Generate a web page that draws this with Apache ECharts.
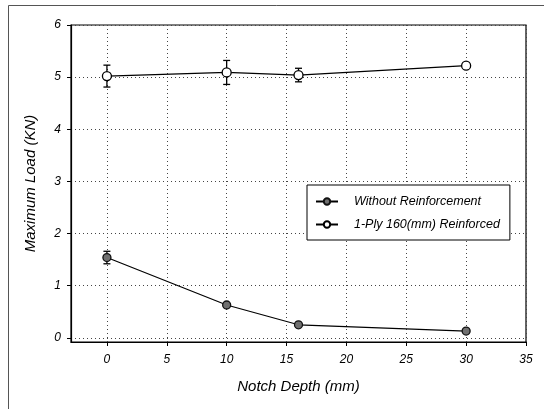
<!DOCTYPE html>
<html>
<head>
<meta charset="utf-8">
<script src="https://cdn.jsdelivr.net/npm/echarts@6/dist/echarts.min.js"></script>
<style>html,body{margin:0;padding:0;background:#fff}#c{width:544px;height:409px}</style>
</head>
<body>
<div id="c"></div>
<script>
const notchDepth = [0, 10, 16, 30];
const withoutReinf = [1.54, 0.63, 0.25, 0.13];
const withoutErr = [0.12, 0, 0, 0];
const reinforced = [5.02, 5.09, 5.04, 5.22];
const reinforcedErr = [0.21, 0.23, 0.13, 0];
const xTicks = [0, 5, 10, 15, 20, 25, 30, 35];
const yTicks = [0, 1, 2, 3, 4, 5, 6];
const seriesNames = ['Without Reinforcement', '1-Ply 160(mm) Reinforced'];

const FONT = '"Liberation Sans", Arial, sans-serif';

function pairs(ys) { return notchDepth.map((x, i) => [x, ys[i]]); }
function errData(ys, es) { return notchDepth.map((x, i) => [x, ys[i], es[i]]); }

function errRender(params, api) {
  const x = api.value(0), y = api.value(1), e = api.value(2);
  if (!e) return null;
  const top = api.coord([x, y + e]);
  const bot = api.coord([x, y - e]);
  const cap = 3.5;
  const st = { stroke: '#000', lineWidth: 1.3 };
  return { type: 'group', children: [
    { type: 'line', shape: { x1: top[0], y1: top[1], x2: bot[0], y2: bot[1] }, style: st },
    { type: 'line', shape: { x1: top[0] - cap, y1: top[1], x2: top[0] + cap, y2: top[1] }, style: st },
    { type: 'line', shape: { x1: bot[0] - cap, y1: bot[1], x2: bot[0] + cap, y2: bot[1] }, style: st }
  ]};
}

const chart = echarts.init(document.getElementById('c'), null, { renderer: 'canvas' });
const gridLine = { show: true, lineStyle: { color: '#444', width: 1, type: [1, 3] } };
chart.setOption({
  backgroundColor: '#fff',
  animation: false,
  textStyle: { fontFamily: FONT },
  graphic: [{
    type: 'rect', shape: { x: 8.5, y: 5.5, width: 600, height: 500 },
    style: { fill: null, stroke: '#555', lineWidth: 1 }, silent: true, z: -10
  }],
  grid: { left: 71, right: 18, top: 25, bottom: 67, show: true, borderColor: '#000', borderWidth: 1.2, backgroundColor: 'transparent' },
  legend: {
    orient: 'vertical', left: 307, top: 185,
    data: seriesNames,
    backgroundColor: '#fff', borderColor: '#000', borderWidth: 1,
    padding: [10, 10, 9, 8], itemGap: 10, itemWidth: 22, itemHeight: 8,
    textStyle: { fontFamily: FONT, fontStyle: 'italic', fontSize: 12.5, color: '#000', padding: [0, 0, 0, 11] }
  },
  xAxis: {
    type: 'value', min: -3, max: 35,
    name: 'Notch Depth (mm)', nameLocation: 'middle', nameGap: 37,
    nameTextStyle: { fontFamily: FONT, fontStyle: 'italic', fontSize: 15, color: '#000' },
    axisLine: { show: true, onZero: false, lineStyle: { color: '#000', width: 1.2 } },
    axisTick: { show: true, length: 4, customValues: xTicks, lineStyle: { color: '#000' } },
    axisLabel: { customValues: xTicks, margin: 12, fontFamily: FONT, fontStyle: 'italic', fontSize: 12, color: '#000' },
    splitLine: gridLine
  },
  yAxis: {
    type: 'value', min: -0.08, max: 6,
    name: 'Maximum Load (KN)', nameLocation: 'middle', nameGap: 33,
    nameTextStyle: { fontFamily: FONT, fontStyle: 'italic', fontSize: 15, color: '#000' },
    axisLine: { show: true, onZero: false, lineStyle: { color: '#000', width: 1.2 } },
    axisTick: { show: true, length: 4, customValues: yTicks, lineStyle: { color: '#000' } },
    axisLabel: { customValues: yTicks, margin: 10, fontFamily: FONT, fontStyle: 'italic', fontSize: 12, color: '#000' },
    splitLine: gridLine
  },
  series: [
    { type: 'custom', name: 'errA', renderItem: errRender, data: errData(withoutReinf, withoutErr), z: 2, silent: true },
    { type: 'custom', name: 'errB', renderItem: errRender, data: errData(reinforced, reinforcedErr), z: 2, silent: true },
    {
      type: 'line', name: seriesNames[0], data: pairs(withoutReinf), z: 3,
      symbol: 'circle', symbolSize: 8,
      lineStyle: { color: '#000', width: 1.2 },
      itemStyle: { color: '#707070', borderColor: '#111', borderWidth: 1.3 }
    },
    {
      type: 'line', name: seriesNames[1], data: pairs(reinforced), z: 3,
      symbol: 'circle', symbolSize: 9,
      lineStyle: { color: '#000', width: 1.2 },
      itemStyle: { color: '#fff', borderColor: '#000', borderWidth: 1.3 }
    }
  ]
});
</script>
</body>
</html>
